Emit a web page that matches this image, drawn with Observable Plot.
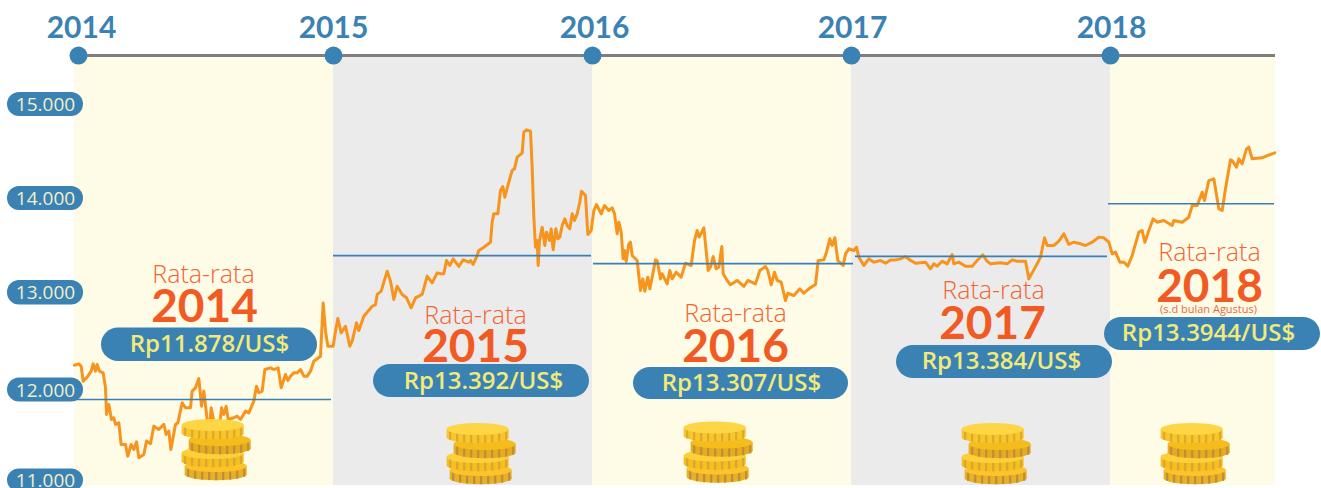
<!DOCTYPE html>
<html><head><meta charset="utf-8">
<script src="https://cdn.jsdelivr.net/npm/d3@7"></script>
<script src="https://cdn.jsdelivr.net/npm/@observablehq/plot@0.6"></script>
<style>html,body{margin:0;padding:0;background:#fff;overflow:hidden}svg{display:block}</style>
</head><body><div id="chart"></div>
<script>
// time unit: 777 steps = one year, 0 = start of 2014
const yearLength = 777;
const years = ["2014","2015","2016","2017","2018"];
const yearStarts = [0,777,1554,2331,3108];
const seriesEnd = 3603;
const yearDotT = [12,777,1554,2331,3108];
const yearLabelT = [21,777,1560,2334,3111];
const ticks = [11000,12000,13000,14000,15000];
const tickLabels = ["11.000","12.000","13.000","14.000","15.000"];

const rateT = [0,13,20,26,40,50,56,63,68,75,86,93,96,103,111,118,123,133,140,153,160,170,178,186,193,208,216,228,238,253,268,275,283,289,303,310,323,333,348,353,363,373,381,388,398,403,410,418,428,438,441,448,455,461,478,488,498,513,523,538,546,553,563,571,588,598,611,620,633,640,648,658,668,678,688,698,708,718,738,746,753,760,776,783,790,800,813,826,833,846,853,868,893,903,908,920,938,948,958,968,983,996,1010,1023,1043,1058,1073,1088,
1098,1108,1116,1126,1136,1153,1166,1183,1188,1196,1206,1213,1228,1248,1253,1258,1270,1278,1285,1291,1303,1313,1320,1328,1343,1348,1356,1368,1373,1378,1383,1388,1391,1395,1403,1411,1416,1425,1430,1436,1444,1450,1456,1463,1471,1478,1486,1493,1500,1508,1516,1521,1533,1540,1550,
1558,1566,1580,1590,1603,1613,1620,1628,1633,1640,1646,1650,1655,1663,1668,1673,1688,1698,1705,1711,1720,1726,1733,1743,1748,1758,1763,1778,1786,1793,1805,1820,1833,1850,1860,1868,1874,1888,1901,1908,1916,1925,1933,1942,1946,1958,1968,1988,2008,2020,2043,2056,2073,2080,2090,2100,2108,2120,2133,2140,2158,2176,2188,2203,2223,2231,2248,2256,2266,2273,2281,2290,2306,2313,2323,
2338,2346,2353,2368,2383,2398,2418,2433,2448,2463,2478,2493,2508,2523,2553,2568,2578,2588,2603,2618,2633,2638,2653,2673,2693,2708,2725,2736,2748,2778,2798,2813,2828,2853,2863,2888,2898,2910,2918,2938,2953,2968,2983,2998,3018,3033,3053,3073,3088,3103,
3113,3123,3136,3148,3160,3173,3193,3203,3211,3223,3236,3248,3268,3293,3298,3323,3343,3353,3368,3383,3390,3403,3418,3433,3443,3453,3468,3473,3486,3493,3503,3516,3523,3533,3563,3578,3601];
const rateValue = [12258,12272,12248,12095,12146,12197,12272,12197,12265,12197,12180,12027,11734,11845,11678,11697,11623,11641,11400,11400,11271,11400,11345,11430,11253,11290,11438,11408,11604,11567,11623,11512,11549,11345,11623,11641,11863,11808,11808,11993,12027,12122,11826,11993,11678,11475,11808,11660,11550,11697,11808,11734,11826,11678,11697,11715,11678,11771,11752,11882,12044,11976,11993,12214,12231,12214,12231,12027,12163,12102,12146,12180,12180,12214,12146,12146,12197,12299,12350,12894,12605,12452,12452,12605,12734,12588,12656,12452,12503,12690,12612,12758,12860,12877,12980,13014,13227,13120,12929,13067,12980,12946,12844,12946,12980,13174,13103,13209,
13199,13199,13340,13287,13358,13277,13348,13323,13340,13298,13376,13447,13482,13535,13748,13837,13837,14085,14128,14014,14174,14298,14316,14440,14482,14706,14730,14716,14333,13801,13482,13553,13287,13553,13695,13500,13642,13553,13677,13454,13677,13571,13589,13713,13784,13713,13677,13837,13766,13837,13961,14078,14032,13617,13660,
13872,13936,13837,13925,13872,13901,13837,13624,13748,13642,13358,13447,13330,13518,13535,13394,13340,13021,13145,13014,13163,13039,13163,13347,13340,13145,13199,13092,13234,13145,13216,13163,13312,13287,13553,13660,13589,13688,13234,13270,13383,13252,13270,13489,13199,13128,13082,13128,13064,13128,13092,13234,13277,13234,13082,13216,13128,13110,12918,12993,12969,13039,12993,13039,13085,13340,13347,13429,13571,13500,13582,13340,13287,13411,13465,
13447,13482,13376,13287,13358,13323,13340,13312,13347,13347,13358,13383,13340,13312,13323,13252,13305,13280,13333,13305,13404,13305,13323,13280,13280,13340,13401,13340,13305,13316,13305,13347,13333,13333,13145,13305,13376,13582,13500,13500,13546,13624,13511,13535,13518,13500,13535,13589,13582,13535,
13411,13429,13323,13323,13280,13394,13642,13660,13535,13660,13784,13748,13766,13713,13766,13748,13801,13925,13925,14067,13979,14191,14209,13890,13872,14103,14411,14404,14333,14422,14369,14528,14546,14422,14433,14457,14486];

const averageValues = [11900,13392,13307,13384,13944];
const averageFrom = [0,777,1557,2343,3102];
const averageTo = [771,1551,2337,3099,3600];
const priceLabels = ["Rp11.878/US$","Rp13.392/US$","Rp13.307/US$","Rp13.384/US$","Rp13.3944/US$"];

const rataT = [387,1203,1983,2757,3405];
const rataY = [13191,12765,12776,13011,13415];
const yearTitleT = [390,1203,1983,2754,3405];
const yearTitleY = [12847,12439,12439,12673,13061];
const pillFrom = [81,897,1677,2466,3090];
const pillTo = [729,1545,2322,3114,3738];
const pillBottom = [12296,11922,11900,12122,12408];
const pillTop = [12638,12265,12235,12459,12745];
const priceT = [405,1227,2001,2781,3402];
const priceY = [12469,12092,12071,12296,12582];

// coin stacks
const coinCenters = [416,1211,1922,2756,3353];
const coinDrop = [0,-44,-28,-44,-44];
const coinShift = [9,0,21,0];            // bottom coin first
const coinTop = [11222,11367,11511,11678];
const coinCap = ["#fcc32a","#fdd03a","#f5bd1c","#fdd545"];
const coinBody = ["#e8b024","#f5bf22","#e5ac22","#f8c62b"];
const coinRib = ["#bd8d3b","#d9a52e","#c08f35","#dca92e"];
const halfW = 93, capH = 133, bodyH = 92;

const coinMarks = coinCenters.flatMap((c,s) => coinTop.flatMap((t,i) => {
  const cx = c + coinShift[i], top = t + coinDrop[s], mid = top - capH/2;
  const ribs = d3.range(-84,85,21).map(d => {
    const arc = Math.sqrt(1 - (d/halfW)**2) * capH/2;
    return {x: cx + d, y1: mid - arc, y2: mid - arc - bodyH};
  });
  const k = [0];
  return [
    Plot.rect(k, {x1: cx - halfW, x2: cx + halfW, y1: top - capH - bodyH, y2: top - bodyH, fill: coinBody[i], rx: 30, ry: 6}),
    Plot.rect(k, {x1: cx - halfW, x2: cx + halfW, y1: mid - bodyH, y2: mid, fill: coinBody[i]}),
    Plot.ruleX(ribs, {x: "x", y1: "y1", y2: "y2", stroke: coinRib[i], strokeWidth: 2.2}),
    Plot.rect(k, {x1: cx - halfW, x2: cx + halfW, y1: top - capH, y2: top, fill: coinCap[i], rx: 30, ry: 6})
  ];
}));
const seq = i => d3.range(i);

const plot = Plot.plot({
  width: 1321, height: 488, marginTop: 0, marginRight: 0, marginBottom: 0, marginLeft: 0,
  style: {background: "#fff", overflow: "hidden"},
  x: {type: "linear", domain: [0, seriesEnd], range: [74, 1275], axis: null},
  y: {type: "linear", domain: [10944,11000,12000,13000,15000,15510], range: [485,480,390,292,104,56], axis: null},
  marks: [
    Plot.rect(seq(5), {
      x1: i => yearStarts[i],
      x2: i => i < 4 ? yearStarts[i+1] : seriesEnd,
      y1: 10944, y2: 15510,
      fill: i => i % 2 ? "#ebebeb" : "#fefbe7"
    }),
    Plot.ruleY([15520], {x1: yearDotT[0], x2: seriesEnd, stroke: "#7f7f7f", strokeWidth: 3}),
    Plot.dot(yearDotT, {x: d => d, y: 15520, r: 9, fill: "#3a82b3", stroke: "none"}),
    Plot.text(years, {
      x: (d,i) => yearLabelT[i], y: 15808, text: d => d,
      fontFamily: "Lato", fontWeight: 700, fontSize: 30, fill: "#3a82b3"
    }),
    Plot.line(rateT.map((t,i) => [t, rateValue[i]]), {
      x: "0", y: "1", stroke: "#f7941d", strokeWidth: 3, strokeLinejoin: "round", curve: "linear"
    }),
    Plot.ruleY(averageValues, {
      x1: (d,i) => averageFrom[i], x2: (d,i) => averageTo[i],
      stroke: "#3a7fb5", strokeWidth: 1.6
    }),
    Plot.rect(ticks, {
      x1: -201, x2: 27, y1: d => d - 128, y2: d => d + 128,
      fill: "#3a82b3", rx: 12, ry: 12
    }),
    Plot.text(tickLabels, {
      x: -87, y: (d,i) => ticks[i], text: d => d,
      fontFamily: "Open Sans", fontSize: 19, fill: "#f2efc8"
    }),
    Plot.text(years, {
      x: (d,i) => rataT[i], y: (d,i) => rataY[i], text: () => "Rata-rata",
      fontFamily: "Open Sans", fontWeight: 300, fontSize: 25, fill: "#f2632f"
    }),
    Plot.text(years, {
      x: (d,i) => yearTitleT[i], y: (d,i) => yearTitleY[i], text: d => d,
      fontFamily: "Lato", fontWeight: 700, fontSize: 46, fill: "#f15a22"
    }),
    Plot.text(["(s.d bulan Agustus)"], {
      x: 3402, y: 12827, text: d => d,
      fontFamily: "Open Sans", fontWeight: 400, fontSize: 11, fill: "#f2673a"
    }),
    Plot.rect(priceLabels, {
      x1: (d,i) => pillFrom[i], x2: (d,i) => pillTo[i],
      y1: (d,i) => pillBottom[i], y2: (d,i) => pillTop[i],
      fill: "#3a82b3", rx: 17, ry: 17
    }),
    Plot.text(priceLabels, {
      x: (d,i) => priceT[i], y: (d,i) => priceY[i], text: d => d,
      fontFamily: "Open Sans", fontWeight: 600, fontSize: 24, fill: "#f1ea7a"
    }),
    ...coinMarks
  ]
});
document.getElementById("chart").append(plot);
</script></body></html>
